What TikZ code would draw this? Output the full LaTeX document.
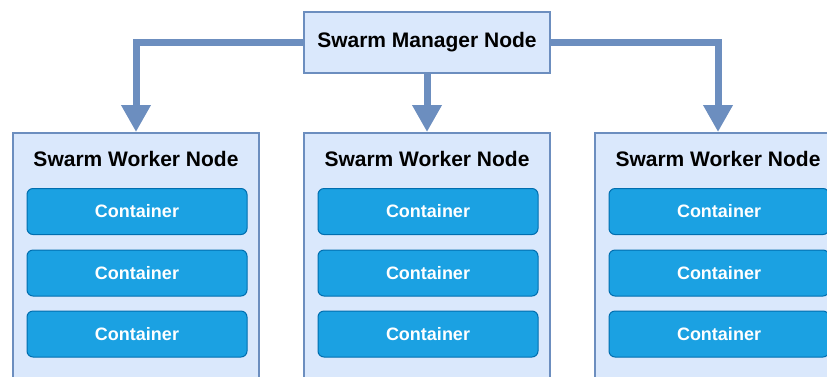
\documentclass[tikz,border=0pt]{standalone}
\usepackage{fontspec}
\setmainfont{Liberation Sans}
\usetikzlibrary{arrows.meta}
\definecolor{hostfill}{HTML}{DAE8FC}
\definecolor{hostline}{HTML}{6C8EBF}
\definecolor{ctfill}{HTML}{1BA1E2}
\definecolor{ctline}{HTML}{006EAF}
\begin{document}
\begin{tikzpicture}[x=1pt,y=-1pt,
  hostbox/.style={draw=hostline, fill=hostfill, line width=2pt,
    minimum width=246pt, inner sep=0pt},
  title/.style={font=\fontsize{21}{25}\selectfont\bfseries, text=black, inner sep=0pt},
  ctbox/.style={draw=ctline, fill=ctfill, line width=1pt, rounded corners=6pt,
    minimum width=220pt, minimum height=46pt, inner sep=0pt,
    font=\fontsize{18}{22}\selectfont\bfseries, text=white},
  link/.style={draw=hostline, line width=7pt,
    -{Triangle[length=27pt,width=28pt]}}]
\useasboundingbox (0,0) rectangle (827,376);
\clip (0,0) rectangle (827,376);

% manager
\node[hostbox, minimum height=61pt, title] (mgr) at (427,42.5) {Swarm Manager Node};

% workers with their containers
\foreach \i/\cx in {1/136, 2/427, 3/718} {
  \node[hostbox, minimum height=262pt] (w\i) at (\cx,264) {};
  \node[title] (t\i) at (\cx,159) {Swarm Worker Node};
  \node[ctbox] (c\i a) at (\cx+1,211.5) {Container};
  \node[ctbox] (c\i b) at (\cx+1,273) {Container};
  \node[ctbox] (c\i c) at (\cx+1,334) {Container};
}

% manager to workers
\draw[link] (mgr.west) -| (w1.north);
\draw[link] (mgr.south) -- (w2.north);
\draw[link] (mgr.east) -| (w3.north);
\end{tikzpicture}
\end{document}
